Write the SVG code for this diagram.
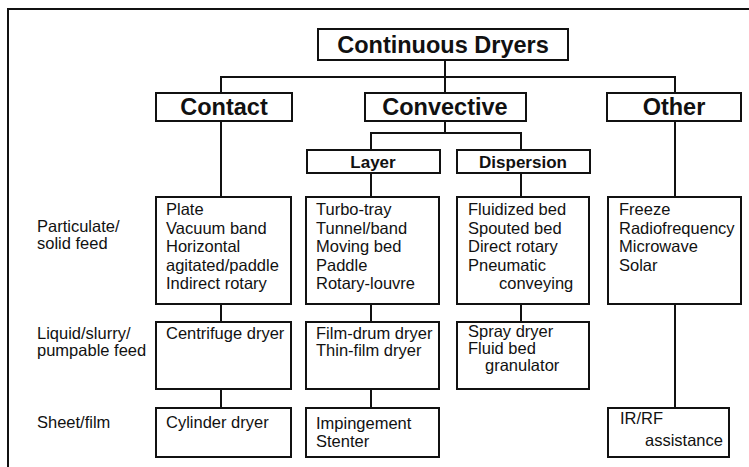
<svg xmlns="http://www.w3.org/2000/svg" width="749" height="467" viewBox="0 0 749 467">
<style>
.box{fill:#fff;stroke:#111;stroke-width:2}
.ln{fill:none;stroke:#111;stroke-width:2}
.h1{font-family:"Liberation Sans",Arial,sans-serif;font-weight:bold;font-size:23.5px;fill:#111;text-anchor:middle}
.h2{font-family:"Liberation Sans",Arial,sans-serif;font-weight:bold;font-size:17px;fill:#111;text-anchor:middle}
.t{font-family:"Liberation Sans",Arial,sans-serif;font-size:16.5px;fill:#111}
</style>
<rect width="749" height="467" fill="#fff"/>
<path class="ln" d="M8,467 V9 H749"/>
<g id="connectors" class="ln">
<path d="M445,60 V93"/>
<path d="M221,93 V77 H675 V93"/>
<path d="M445,121 V133 M371,150 V133 H521 V150"/>
<path d="M221,121 V197 M675,121 V197 M371,173 V197 M521,173 V197"/>
<path d="M221,304 V322 M371,304 V322 M521,304 V322"/>
<path d="M221,389 V408 M371,389 V408 M675,304 V408"/>
</g>
<g id="labels">
<text class="t" x="37" y="232">Particulate/</text>
<text class="t" x="37" y="249">solid feed</text>
<text class="t" x="37" y="339">Liquid/slurry/</text>
<text class="t" x="37" y="356">pumpable feed</text>
<text class="t" x="37" y="428">Sheet/film</text>
</g>
<g id="n-continuous"><rect class="box" x="318" y="29" width="250" height="31"/><text class="h1" x="443" y="53">Continuous Dryers</text></g>
<g id="n-contact"><rect class="box" x="156" y="93" width="136" height="28"/><text class="h1" x="224" y="115">Contact</text></g>
<g id="n-convective"><rect class="box" x="365" y="93" width="161" height="28"/><text class="h1" x="445" y="115">Convective</text></g>
<g id="n-other"><rect class="box" x="607" y="93" width="134" height="28"/><text class="h1" x="674" y="115">Other</text></g>
<g id="n-layer"><rect class="box" x="307" y="150" width="133" height="23"/><text class="h2" x="373" y="168">Layer</text></g>
<g id="n-dispersion"><rect class="box" x="457" y="150" width="133" height="23"/><text class="h2" x="523" y="168">Dispersion</text></g>
<g id="n-contact-solid"><rect class="box" x="156" y="197" width="135" height="107"/>
<text class="t" x="166" y="215">Plate</text><text class="t" x="166" y="233.5">Vacuum band</text><text class="t" x="166" y="252">Horizontal</text><text class="t" x="166" y="270.5">agitated/paddle</text><text class="t" x="166" y="289">Indirect rotary</text></g>
<g id="n-layer-solid"><rect class="box" x="306" y="197" width="133" height="107"/>
<text class="t" x="316" y="215">Turbo-tray</text><text class="t" x="316" y="233.5">Tunnel/band</text><text class="t" x="316" y="252">Moving bed</text><text class="t" x="316" y="270.5">Paddle</text><text class="t" x="316" y="289">Rotary-louvre</text></g>
<g id="n-dispersion-solid"><rect class="box" x="457" y="197" width="132" height="107"/>
<text class="t" x="468" y="215">Fluidized bed</text><text class="t" x="468" y="233.5">Spouted bed</text><text class="t" x="468" y="252">Direct rotary</text><text class="t" x="468" y="270.5">Pneumatic</text><text class="t" x="499" y="289">conveying</text></g>
<g id="n-other-solid"><rect class="box" x="608" y="197" width="133" height="107"/>
<text class="t" x="619" y="215">Freeze</text><text class="t" x="619" y="233.5">Radiofrequency</text><text class="t" x="619" y="252">Microwave</text><text class="t" x="619" y="270.5">Solar</text></g>
<g id="n-centrifuge"><rect class="box" x="156" y="322" width="135" height="67"/><text class="t" x="166" y="339">Centrifuge dryer</text></g>
<g id="n-filmdrum"><rect class="box" x="306" y="322" width="133" height="67"/><text class="t" x="316" y="339">Film-drum dryer</text><text class="t" x="316" y="356">Thin-film dryer</text></g>
<g id="n-spray"><rect class="box" x="457" y="322" width="132" height="67"/><text class="t" x="468" y="337">Spray dryer</text><text class="t" x="468" y="354">Fluid bed</text><text class="t" x="485" y="371">granulator</text></g>
<g id="n-cylinder"><rect class="box" x="156" y="408" width="135" height="49"/><text class="t" x="166" y="428">Cylinder dryer</text></g>
<g id="n-impingement"><rect class="box" x="306" y="408" width="133" height="49"/><text class="t" x="316" y="429">Impingement</text><text class="t" x="316" y="447">Stenter</text></g>
<g id="n-irrf"><rect class="box" x="608" y="408" width="121" height="49"/><text class="t" x="620" y="424">IR/RF</text><text class="t" x="645" y="446">assistance</text></g>
</svg>
